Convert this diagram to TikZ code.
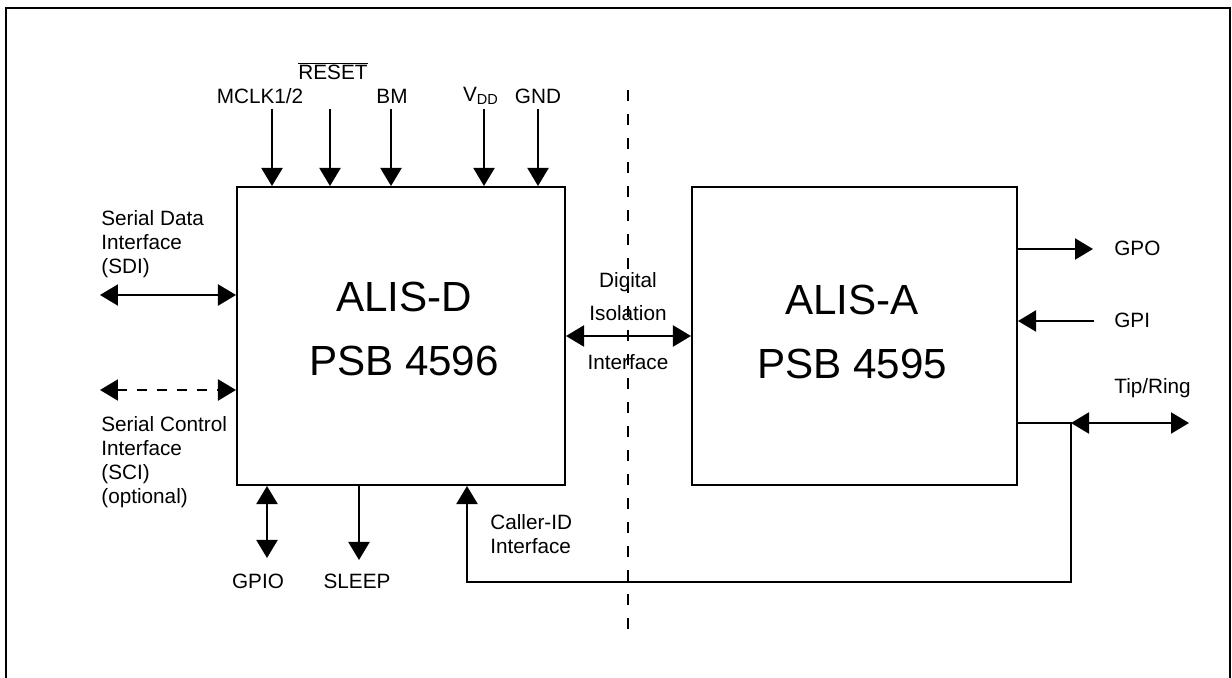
\documentclass[tikz,border=0pt]{standalone}
\usepackage{fontspec}
\setmainfont{Liberation Sans}
\usetikzlibrary{arrows.meta, positioning}

\begin{document}
\begin{tikzpicture}[
    x=0.02cm, y=-0.02cm,
    chip/.style={rectangle, draw, line width=1.2pt, inner sep=0pt},
    title/.style={inner sep=0pt, align=center, font=\fontsize{24}{36}\selectfont},
    lbl/.style={inner sep=0pt, align=left, font=\fontsize{11.8}{13.6}\selectfont},
    pin/.style={-{Triangle[length=0.36cm, width=0.42cm]}, line width=1.2pt},
    bipin/.style={{Triangle[length=0.36cm, width=0.42cm]}-{Triangle[length=0.36cm, width=0.42cm]}, line width=1.2pt},
    barrier/.style={line width=1.1pt, dash pattern=on 0.22cm off 0.26cm},
]
\useasboundingbox (0,0) rectangle (1232,678);

% outer frame
\draw[line width=1.1pt] (6,678) -- (6,8) -- (1230,8) -- (1230,678);

\node[chip, minimum width=6.56cm, minimum height=5.96cm] (alisd) at (401,336) {};
\node[chip, minimum width=6.5cm, minimum height=5.96cm] (alisa) at (854.5,336) {};
\node[title] (alisdName) at (404,329) {ALIS-D\\PSB 4596};
\node[title] (alisaName) at (852,332) {ALIS-A\\PSB 4595};

% isolation barrier
\coordinate (barT) at (628,90);
\coordinate (barB) at (628,640);
\draw[barrier] (barT) -- (barB);

% supply and control pins on top
\node[lbl] (mclk) at (260,96) {MCLK1/2};
\node[lbl] (reset) at (333,71) {$\overline{\mbox{RESET}}$};
\node[lbl] (bm) at (392,96) {BM};
\node[lbl] (vdd) at (481,96) {V\textsubscript{DD}};
\node[lbl] (gnd) at (538,96) {GND};
\coordinate (mclkP) at (272,109);
\coordinate (resetP) at (330,109);
\coordinate (bmP) at (391,109);
\coordinate (vddP) at (484,109);
\coordinate (gndP) at (538,109);
\draw[pin] (mclkP) -- (mclkP |- alisd.north);
\draw[pin] (resetP) -- (resetP |- alisd.north);
\draw[pin] (bmP) -- (bmP |- alisd.north);
\draw[pin] (vddP) -- (vddP |- alisd.north);
\draw[pin] (gndP) -- (gndP |- alisd.north);

% serial interfaces
\node[lbl, anchor=west] (sdi) at (101,244) {Serial Data\\Interface\\(SDI)};
\node[lbl, anchor=west] (sci) at (101,462) {Serial Control\\Interface\\(SCI)\\(optional)};
\coordinate (sdiP) at (100,295);
\coordinate (sciP) at (100,390);
\draw[bipin] (sdiP) -- (sdiP -| alisd.west);
\draw[bipin, dash pattern=on 0.2cm off 0.2cm] (sciP) -- (sciP -| alisd.west);

% digital isolation link
\draw[bipin] (alisd.east) -- (alisa.west);
\node[lbl, align=center] (iso) at (628,321) {Digital\\[0.18cm]Isolation\\[0.5cm]Interface};

% bottom pins
\coordinate (gpioP) at (267,558);
\coordinate (sleepP) at (359,560);
\draw[bipin] (gpioP |- alisd.south) -- (gpioP);
\draw[pin] (sleepP |- alisd.south) -- (sleepP);
\node[lbl] (gpio) at (258,581) {GPIO};
\node[lbl] (sleep) at (357,581) {SLEEP};

% ALIS-A pins
\coordinate (gpoP) at (1093,249);
\coordinate (gpiP) at (1094,321);
\draw[pin] (gpoP -| alisa.east) -- (gpoP);
\draw[pin] (gpiP) -- (gpiP -| alisa.east);
\node[lbl, anchor=west] (gpo) at (1114,248) {GPO};
\node[lbl, anchor=west] (gpi) at (1114,320) {GPI};

% line side and caller-ID path
\coordinate (tapT) at (1071,423);
\coordinate (tapB) at (1071,582);
\coordinate (cidP) at (467,582);
\coordinate (tipP) at (1189,423);
\draw[bipin] (tapT) -- (tipP);
\node[lbl, anchor=west] (tip) at (1114,388) {Tip/Ring};
\draw[pin] (tapT -| alisa.east) -- (tapT) -- (tapB) -- (cidP) -- (cidP |- alisd.south);
\node[lbl, anchor=west] (cid) at (490,534) {Caller-ID\\Interface};

\end{tikzpicture}
\end{document}
